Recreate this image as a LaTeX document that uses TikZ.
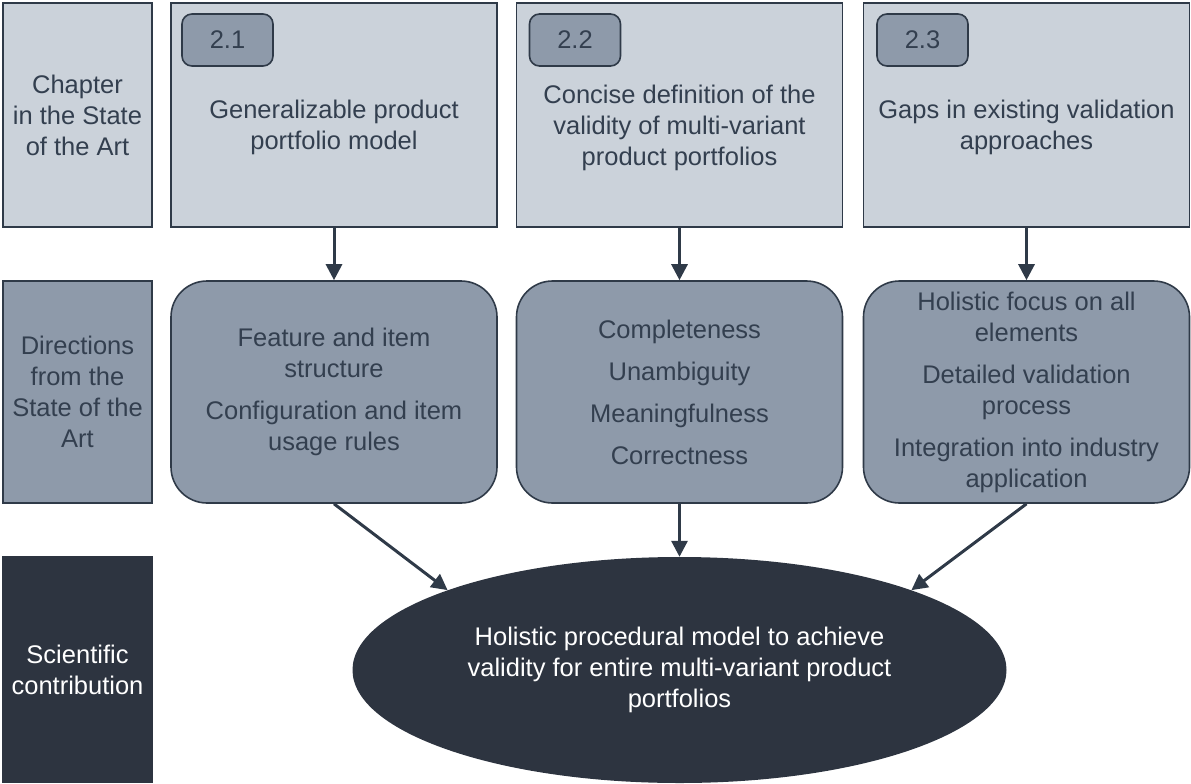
\documentclass[tikz,border=0pt]{standalone}
\usepackage{fontspec}
\setmainfont{Liberation Sans}
\usetikzlibrary{arrows.meta,shapes.geometric}
\definecolor{paleblue}{HTML}{CBD2DA}
\definecolor{midblue}{HTML}{8E9AAA}
\definecolor{darkslate}{HTML}{2D3440}
\definecolor{inkline}{HTML}{2F3A48}
\definecolor{inktext}{HTML}{333F4F}
\tikzset{
  txt/.style={font=\fontsize{25.5}{31}\selectfont, align=center, text=inktext},
  rowhead/.style={draw=inkline, line width=1.6pt, minimum width=149pt, inner sep=0pt, txt},
  chapterbox/.style={draw=inkline, line width=1.6pt, fill=paleblue, minimum width=326pt, minimum height=224pt, inner sep=0pt},
  tagbox/.style={draw=inkline, line width=1.6pt, fill=midblue, rounded corners=10pt, minimum width=91pt, minimum height=52pt, inner sep=0pt, txt},
  dirbox/.style={draw=inkline, line width=1.6pt, fill=midblue, rounded corners=36pt, minimum width=326pt, minimum height=222pt, inner sep=0pt, txt},
  flow/.style={draw=inkline, line width=3pt, -{Triangle[length=16pt,width=16pt]}},
}
\begin{document}
\begin{tikzpicture}[x=1pt,y=-1pt]
\useasboundingbox (0,0) rectangle (1191,784);

% row headings
\node[rowhead, fill=paleblue, minimum height=224pt] (h1) at (77.5,115) {Chapter\\in the State\\of the Art};
\node[rowhead, fill=midblue, minimum height=222pt] (h2) at (77.5,392) {Directions\\from the\\State of the\\Art};
\node[rowhead, fill=darkslate, draw=darkslate, minimum height=225pt, text=white] (h3) at (77.5,669.5) {Scientific\\contribution};

% chapters of the state of the art
\node[chapterbox] (c1) at (334,115) {};
\node[chapterbox] (c2) at (679.5,115) {};
\node[chapterbox] (c3) at (1026.5,115) {};
\node[tagbox] (g1) at (227.5,40) {2.1};
\node[tagbox] (g2) at (575,40) {2.2};
\node[tagbox] (g3) at (922.5,40) {2.3};
\node[txt] (t1) at (334,127) {Generalizable product\\portfolio model};
\node[txt] (t2) at (679.5,128) {Concise definition of the\\validity of multi-variant\\product portfolios};
\node[txt] (t3) at (1026.5,127) {Gaps in existing validation\\approaches};

% directions
\node[dirbox] (d1) at (334,392) {Feature and item\\structure\\[11pt]Configuration and item\\usage rules};
\node[dirbox] (d2) at (679.5,392) {Completeness\\[11pt]Unambiguity\\[11pt]Meaningfulness\\[11pt]Correctness};
\node[dirbox] (d3) at (1026.5,392) {Holistic focus on all\\elements\\[11pt]Detailed validation\\process\\[11pt]Integration into industry\\application};

% scientific contribution
\node[ellipse, fill=darkslate, minimum width=654pt, minimum height=226pt, inner sep=0pt, txt, text=white] (e) at (679.5,670)
  {Holistic procedural model to achieve\\validity for entire multi-variant product\\portfolios};

% connectors
\draw[flow] (c1.south) -- (d1.north);
\draw[flow] (c2.south) -- (d2.north);
\draw[flow] (c3.south) -- (d3.north);
\draw[flow] (d1.south) -- (e.161);
\draw[flow] (d2.south) -- (e.north);
\draw[flow] (d3.south) -- (e.19);
\end{tikzpicture}
\end{document}
